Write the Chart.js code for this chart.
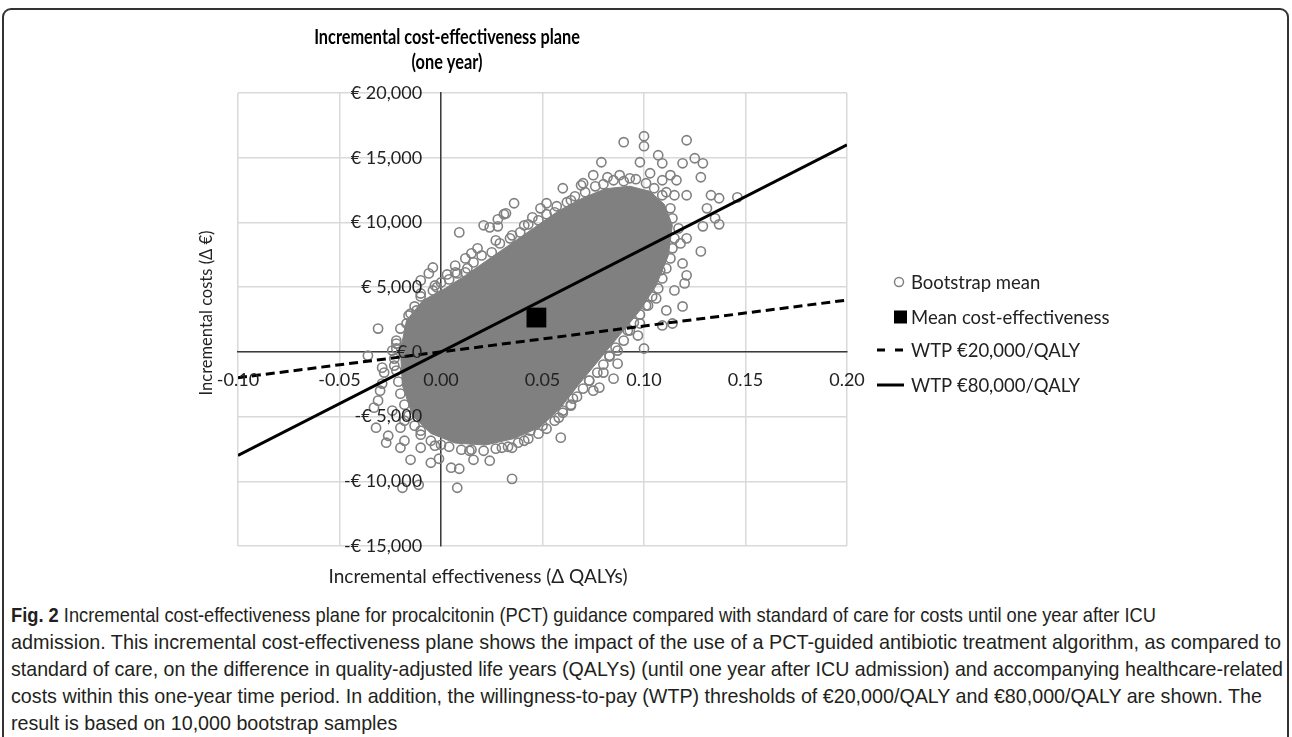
<!DOCTYPE html>
<html>
<head>
<meta charset="utf-8">
<script src="https://cdn.jsdelivr.net/npm/chart.js@4.4.1/dist/chart.umd.min.js"></script>
<style>
  html, body { margin: 0; padding: 0; background: #fff; }
  #frame { position: absolute; left: 2px; top: 8px; width: 1287px; height: 760px;
           border: 2px solid #333; border-radius: 9px; box-sizing: border-box; }
  #chart { position: absolute; left: 0; top: 0; }
  #caption { position: absolute; left: 11px; top: 601px; color: #231f20;
             font-family: "Liberation Sans", Arial, sans-serif;
             font-size: 21px; line-height: 27px; white-space: nowrap; }
  #caption div { transform-origin: 0 50%; width: max-content; }
</style>
</head>
<body>
<div id="frame"></div>
<canvas id="chart" width="1292" height="595"></canvas>
<div id="caption">
  <div data-w="1145"><b>Fig. 2</b> Incremental cost-effectiveness plane for procalcitonin (PCT) guidance compared with standard of care for costs until one year after ICU</div>
  <div data-w="1270">admission. This incremental cost-effectiveness plane shows the impact of the use of a PCT-guided antibiotic treatment algorithm, as compared to</div>
  <div data-w="1272">standard of care, on the difference in quality-adjusted life years (QALYs) (until one year after ICU admission) and accompanying healthcare-related</div>
  <div data-w="1251">costs within this one-year time period. In addition, the willingness-to-pay (WTP) thresholds of €20,000/QALY and €80,000/QALY are shown. The</div>
  <div>result is based on 10,000 bootstrap samples</div>
</div>
<script>
// ---- data ----
const titleLines   = ['Incremental cost-effectiveness plane', '(one year)'];
const xAxisTitle   = 'Incremental effectiveness (\u0394 QALYs)';
const yAxisTitle   = 'Incremental costs (\u0394 \u20ac)';
const legendLabels = ['Bootstrap mean', 'Mean cost-effectiveness', 'WTP \u20ac20,000/QALY', 'WTP \u20ac80,000/QALY'];

// dense core of the bootstrap cloud (solid grey), lower and upper edge
const coreLowerX = [-0.020, -0.019, -0.014, -0.005, 0.007, 0.022, 0.036, 0.049, 0.059, 0.068, 0.078, 0.088, 0.098, 0.106, 0.112, 0.114];
const coreLowerY = [100, -2610, -4930, -6300, -7050, -7200, -6700, -5800, -4300, -2500, -600, 1300, 3200, 5130, 7450, 9780];
const coreUpperX = [-0.020, -0.017, -0.009, 0.002, 0.012, 0.022, 0.034, 0.046, 0.058, 0.070, 0.081, 0.093, 0.103, 0.110, 0.114];
const coreUpperY = [100, 2420, 3970, 4900, 5900, 7000, 8300, 9600, 10900, 11900, 12600, 12800, 12400, 11400, 9780];

// single bootstrap samples visible along and around the core
const bootEffects = [
  // upper-left scatter
  0.009, 0.036, 0.031, 0.028, 0.021, 0.024, 0.028, -0.004, -0.006, 0.003, 0.008, 0.012, 0.015, 0.018, -0.010, -0.003,
  0.035, 0.045, 0.049, 0.052, -0.010, -0.002, -0.015, -0.012, -0.031, 0.032, 0.069, 0.007, 0.012, 0.027, 0.041, 0.056, 0.064,
  // lower-left scatter
  -0.036, -0.029, -0.028, -0.030, -0.031, -0.033, -0.032, -0.026, -0.027, -0.020, -0.015, -0.005, -0.001, 0.005, 0.009,
  0.016, 0.024, 0.030, 0.035, 0.035, 0.008, -0.019, -0.011, -0.010, -0.020, 0.044, 0.050, -0.017, -0.022, -0.024, -0.029,
  -0.023, -0.024, -0.018, -0.018, -0.010, -0.003, 0.014, 0.041,
  // right scatter
  0.119, 0.111, 0.114, 0.109, 0.100, 0.098, 0.097, 0.087, 0.085, 0.087, 0.080, 0.078, 0.075, 0.065, 0.060, 0.058, 0.059,
  0.106, 0.115, 0.120, 0.121, 0.119, 0.128, 0.118, 0.121, 0.129, 0.135, 0.137, 0.131, 0.133, 0.137, 0.146, 0.105, 0.108,
  0.102, 0.093, 0.083, 0.073, 0.064,
  // upper scatter
  0.100, 0.100, 0.090, 0.121, 0.107, 0.109, 0.098, 0.079, 0.119, 0.125, 0.129, 0.128, 0.116, 0.113, 0.075, 0.082, 0.103,
  0.109, 0.060, 0.070, 0.088, 0.093, 0.111, 0.115, 0.121,
  // edge band
  -0.022, -0.020, -0.016, -0.013, -0.010, -0.004, 0.000, 0.004,
  0.007, 0.013, 0.016, 0.020, 0.025, 0.029, 0.034, 0.039, 0.043, 0.048, 0.052, 0.057, 0.062, 0.066, 0.071, 0.076, 0.080,
  0.085, 0.090, 0.096, 0.101, 0.105, 0.109,
  0.113, 0.114, 0.117, 0.115, 0.114, 0.113, 0.111, 0.109, 0.107, 0.104, 0.101, 0.098, 0.095, 0.092, 0.090, 0.086, 0.083,
  0.080, 0.077, 0.073, 0.070, 0.067, 0.064, 0.060, 0.056, 0.052, 0.048,
  0.043, 0.038, 0.033, 0.027, 0.021, 0.015, 0.010, 0.004, 0.000, -0.005, -0.010, -0.013, -0.016, -0.018, -0.020, -0.021,
  -0.022, -0.023, -0.022
];
const bootCosts = [
  9230, 11480, 10630, 10240, 9780, 9620, 9700, 6520, 6060, 5980, 6060, 6140, 7610, 8000, 4510, 5130,
  9000, 10390, 11090, 11480, 5520, 4980, 2960, 3200, 1800, 10700, 12870, 6660, 7220, 8610, 9780, 10780, 11710,
  -290, -1220, -1600, -3000, -3770, -4310, -5860, -6480, -7020, -7410, -8340, -8570, -8260, -8950, -9030,
  -8340, -8410, -7410, -7410, -9810, -10500, -10500, -10270, -7410, -5860, -6090, -5700, 2190, 640, 100, -2450,
  -1060, -4540, -6870, -5320, -6090, -7250, -7640, -6870,
  3510, 3200, 2190, 2040, 260, 2190, 1260, 100, -2070, -910, -1600, -2760, -3000, -3610, -4540, -5080, -6630,
  4130, 4750, 5290, 5910, 6830, 7760, 8380, 8770, 9700, 10320, 9850, 11090, 12100, 11870, 11940, 8610, 6290,
  3580, 1650, -290, -2220, -4150,
  16660, 15890, 16200, 16350, 15190, 14570, 14650, 14650, 14570, 14960, 14570, 13490, 13260, 13650, 13650, 13490, 13800,
  13260, 12640, 13030, 13650, 13410, 12330, 12100, 12100,
  870, 1800, 2810, 3510, 4280, 4740, 5360, 5600,
  6140, 6450, 6910, 7450, 7690, 8380, 8770, 9230, 9850, 10160, 10630, 11250, 11560, 12020, 12330, 12790, 12950,
  13260, 13180, 13340, 13030, 12640, 12100,
  11090, 10320, 9540, 8770, 8000, 7220, 6450, 5670, 4900, 4280, 3580, 2890, 2270, 1650, 870, 330, -360,
  -980, -1600, -2220, -2840, -3460, -4080, -4700, -5320, -5940, -6320,
  -6710, -7020, -7330, -7480, -7640, -7560, -7560, -7330, -7180, -6870, -6400, -5700, -4930, -4080, -3230, -2300,
  -1450, -520, 260
];

const meanEffect = [0.047];
const meanCost   = [2650];

const wtpEffects = [-0.10, 0.20];
const wtp20Costs = [-2000, 4000];
const wtp80Costs = [-8000, 16000];

const xMin = -0.10, xMax = 0.20, xStep = 0.05;
const yMin = -15000, yMax = 20000, yStep = 5000;

// ---- helpers ----
const pts = (xs, ys) => xs.map((x, i) => ({ x, y: ys[i] }));
const fmtEffect = v => (Math.abs(v) < 1e-9 ? 0 : v).toFixed(2);
const fmtCost = v => (v < 0 ? '-' : '') + '\u20ac ' + Math.abs(Math.round(v)).toLocaleString('en-US');

const FONT = 'Lato, "Open Sans", sans-serif';
const GREY = '#808080';

function squeezedText(ctx, text, x, y, sx) {
  ctx.save();
  ctx.translate(x, y);
  ctx.scale(sx, 1);
  ctx.fillText(text, 0, 0);
  ctx.restore();
}

const annotate = {
  id: 'annotate',
  afterDraw(chart) {
    const ctx = chart.ctx;
    ctx.save();
    ctx.textBaseline = 'middle';

    // title
    ctx.fillStyle = '#000';
    ctx.textAlign = 'center';
    ctx.font = 'bold 20px ' + FONT;
    squeezedText(ctx, titleLines[0], 447, 38, 0.815);
    squeezedText(ctx, titleLines[1], 447, 63, 0.815);

    // axis titles
    ctx.fillStyle = '#222';
    ctx.font = '19px ' + FONT;
    ctx.fillText(xAxisTitle, 478, 577);
    ctx.font = '16.5px ' + FONT;
    ctx.save();
    ctx.translate(207, 313);
    ctx.rotate(-Math.PI / 2);
    ctx.fillText(yAxisTitle, 0, 0);
    ctx.restore();

    // legend
    const rows = [282, 317, 350, 385];
    ctx.textAlign = 'left';
    ctx.font = '18.5px ' + FONT;
    legendLabels.forEach((lab, i) => {
      const y = rows[i];
      ctx.save();
      if (i === 0) {
        ctx.strokeStyle = GREY; ctx.lineWidth = 1.5;
        ctx.beginPath(); ctx.arc(899, y, 4.5, 0, Math.PI * 2); ctx.stroke();
      } else if (i === 1) {
        ctx.fillStyle = '#000'; ctx.fillRect(894, y - 6.5, 13, 13);
      } else {
        ctx.strokeStyle = '#000'; ctx.lineWidth = 3;
        if (i === 2) ctx.setLineDash([8, 10]);
        ctx.beginPath(); ctx.moveTo(877, y); ctx.lineTo(904, y); ctx.stroke();
      }
      ctx.restore();
      ctx.fillStyle = '#222';
      ctx.fillText(lab, 911, y + 1);
    });
    ctx.restore();
  }
};

new Chart(document.getElementById('chart'), {
  type: 'scatter',
  data: {
    datasets: [
      { label: 'core-lower', data: pts(coreLowerX, coreLowerY), showLine: true, pointRadius: 0,
        borderWidth: 1, borderColor: GREY, fill: false, order: 5 },
      { label: 'core-upper', data: pts(coreUpperX, coreUpperY), showLine: true, pointRadius: 0,
        borderWidth: 1, borderColor: GREY, backgroundColor: GREY, fill: '-1', order: 4 },
      { label: legendLabels[0], data: pts(bootEffects, bootCosts), pointRadius: 4.6, pointBorderWidth: 1.6,
        borderColor: GREY, backgroundColor: 'rgba(0,0,0,0)', order: 3 },
      { label: legendLabels[1], data: pts(meanEffect, meanCost), pointStyle: 'rect', pointRadius: 14,
        backgroundColor: '#000', borderColor: '#000', borderWidth: 0, order: 2 },
      { label: legendLabels[2], data: pts(wtpEffects, wtp20Costs), showLine: true, pointRadius: 0,
        borderColor: '#000', borderWidth: 3, borderDash: [9, 5], fill: false, order: 1 },
      { label: legendLabels[3], data: pts(wtpEffects, wtp80Costs), showLine: true, pointRadius: 0,
        borderColor: '#000', borderWidth: 3, fill: false, order: 0 }
    ]
  },
  options: {
    responsive: false,
    animation: false,
    layout: { padding: { left: 238, right: 445, top: 93, bottom: 49 } },
    plugins: { legend: { display: false }, tooltip: { enabled: false } },
    scales: {
      x: {
        type: 'linear', min: xMin, max: xMax, position: { y: 0 },
        ticks: { stepSize: xStep, display: false },
        grid: { color: '#d9d9d9', lineWidth: 1.5, drawTicks: false },
        border: { color: '#3a3a3a', width: 1.5 }
      },
      y: {
        type: 'linear', min: yMin, max: yMax, position: { x: 0 },
        ticks: { stepSize: yStep, display: false },
        grid: { color: '#d9d9d9', lineWidth: 1.5, drawTicks: false },
        border: { color: '#3a3a3a', width: 1.5 }
      },
      xLab: {
        type: 'linear', axis: 'x', min: xMin, max: xMax, position: { y: 0 },
        grid: { display: false, drawTicks: false }, border: { display: false },
        ticks: { z: 1, stepSize: xStep, autoSkip: false, maxRotation: 0, padding: 18,
                 color: '#222', font: { family: FONT, size: 18 }, callback: fmtEffect }
      },
      yLab: {
        // labels sit just left of the vertical axis line
        type: 'linear', axis: 'y', min: yMin, max: yMax, position: { x: -0.0093 },
        grid: { display: false, drawTicks: false }, border: { display: false },
        ticks: { z: 1, stepSize: yStep, autoSkip: false,
                 color: '#222', font: { family: FONT, size: 18 }, callback: fmtCost }
      }
    }
  },
  plugins: [annotate]
});

// stretch each caption line to the width it has in the figure
const capLines = Array.from(document.querySelectorAll('#caption div'));
let lastScale = 1;
capLines.forEach(d => {
  const w = d.getBoundingClientRect().width;
  if (d.dataset.w) lastScale = parseFloat(d.dataset.w) / w;
  d.style.transform = 'scaleX(' + lastScale + ')';
});
</script>
</body>
</html>
